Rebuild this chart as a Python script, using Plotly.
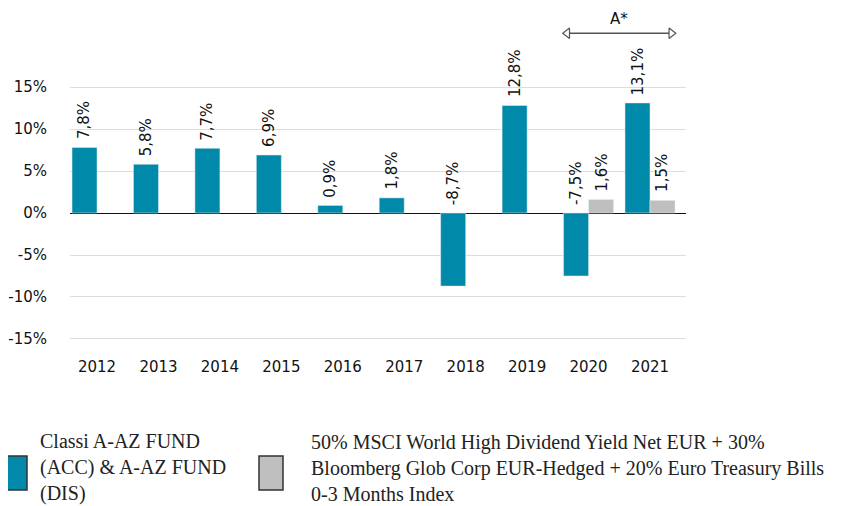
import plotly.graph_objects as go

years = ["2012", "2013", "2014", "2015", "2016", "2017", "2018", "2019", "2020", "2021"]
fund = [7.8, 5.8, 7.7, 6.9, 0.9, 1.8, -8.7, 12.8, -7.5, 13.1]
bench = [None, None, None, None, None, None, None, None, 1.6, 1.5]
ytick_vals = [-15, -10, -5, 0, 5, 10, 15]
ytick_text = ["-15%", "-10%", "-5%", "0%", "5%", "10%", "15%"]
fund_name = "Classi A-AZ FUND<br>(ACC) & A-AZ FUND<br>(DIS)"
bench_name = ("50% MSCI World High Dividend Yield Net EUR + 30%<br>"
              "Bloomberg Glob Corp EUR-Hedged + 20% Euro Treasury Bills<br>"
              "0-3 Months Index")
period_label = "A*"
period_years = ["2020", "2021"]

TEAL = "#0089A8"
GRAY = "#BFBFBF"
FONT = "DejaVu Sans"
SERIF = "Liberation Serif"

xs = list(range(len(years)))
BARGAP = 0.186
half = (1 - BARGAP) / 2  # width of one bar in category units

fig = go.Figure()
fig.add_trace(go.Bar(x=xs, y=fund, marker_color=TEAL, name="fund", showlegend=False))
fig.add_trace(go.Bar(x=xs, y=bench, marker_color=GRAY, name="bench", showlegend=False))

annotations = []
def fmt(v):
    return f"{v:.1f}%".replace(".", ",")

for i, v in enumerate(fund):
    annotations.append(dict(x=i - half / 2, y=max(v, 0), text=fmt(v), textangle=-90,
                            xanchor="center", yanchor="bottom", yshift=6, showarrow=False,
                            font=dict(family=FONT, size=15, color="#111")))
for i, v in enumerate(bench):
    if v is None:
        continue
    annotations.append(dict(x=i + half / 2, y=max(v, 0), text=fmt(v), textangle=-90,
                            xanchor="center", yanchor="bottom", yshift=6, showarrow=False,
                            font=dict(family=FONT, size=15, color="#111")))

# period arrow
i0 = years.index(period_years[0])
i1 = years.index(period_years[1])
xl = i0 - half
xr = i1 + half
ya = 21.4
fig.add_trace(go.Scatter(x=[xl, xr], y=[ya, ya], mode="lines", line=dict(color="#555", width=1.5),
                         showlegend=False, hoverinfo="skip"))
fig.add_trace(go.Scatter(x=[xl + 0.06, xr - 0.06], y=[ya, ya], mode="markers",
                         marker=dict(symbol=["triangle-left", "triangle-right"], size=9, color="white",
                                     line=dict(color="#555", width=1.2)),
                         showlegend=False, hoverinfo="skip"))
annotations.append(dict(x=(xl + xr) / 2, y=ya, text=period_label, yanchor="bottom", yshift=3,
                        showarrow=False, font=dict(family=FONT, size=15, color="#111")))

# custom legend (positions given in screenshot pixels)
shapes = []
def px_x(p):
    return (p - 70) / 616.0
def px_y(p):
    return (352 - p) / 332.0
shapes.append(dict(type="rect", xref="paper", yref="paper", x0=px_x(3), x1=px_x(27),
                   y0=px_y(490), y1=px_y(456), fillcolor=TEAL, line=dict(color="#333", width=1.5)))
shapes.append(dict(type="rect", xref="paper", yref="paper", x0=px_x(259), x1=px_x(283),
                   y0=px_y(490), y1=px_y(456), fillcolor=GRAY, line=dict(color="#333", width=1.5)))
annotations.append(dict(xref="paper", yref="paper", x=px_x(38), y=px_y(468), text=fund_name,
                        xanchor="left", yanchor="middle", align="left", showarrow=False,
                        font=dict(family=SERIF, size=20, color="#222")))
annotations.append(dict(xref="paper", yref="paper", x=px_x(309), y=px_y(468), text=bench_name,
                        xanchor="left", yanchor="middle", align="left", showarrow=False,
                        font=dict(family=SERIF, size=20, color="#222")))

fig.update_layout(
    width=851, height=506,
    margin=dict(l=62, r=173, t=12, b=162, autoexpand=False),
    plot_bgcolor="white", paper_bgcolor="white",
    barmode="group", bargap=BARGAP, bargroupgap=0,
    annotations=annotations, shapes=shapes,
    showlegend=False,
    font=dict(family=FONT, size=15, color="#111"),
)
fig.update_xaxes(range=[-0.44, 9.586], tickvals=xs, ticktext=years, showgrid=False,
                 zeroline=False, showline=False, ticks="", tickfont=dict(size=15),
                 ticklabelstandoff=4, automargin=False)
fig.update_yaxes(range=[-16.55, 22.98], tickvals=ytick_vals, ticktext=ytick_text,
                 showgrid=True, gridcolor="#DDDDDD", gridwidth=1,
                 zeroline=True, zerolinecolor="#111", zerolinewidth=1.2,
                 ticks="", tickfont=dict(size=15), ticklabelstandoff=22, automargin=False)

fig.write_html("out.html")
